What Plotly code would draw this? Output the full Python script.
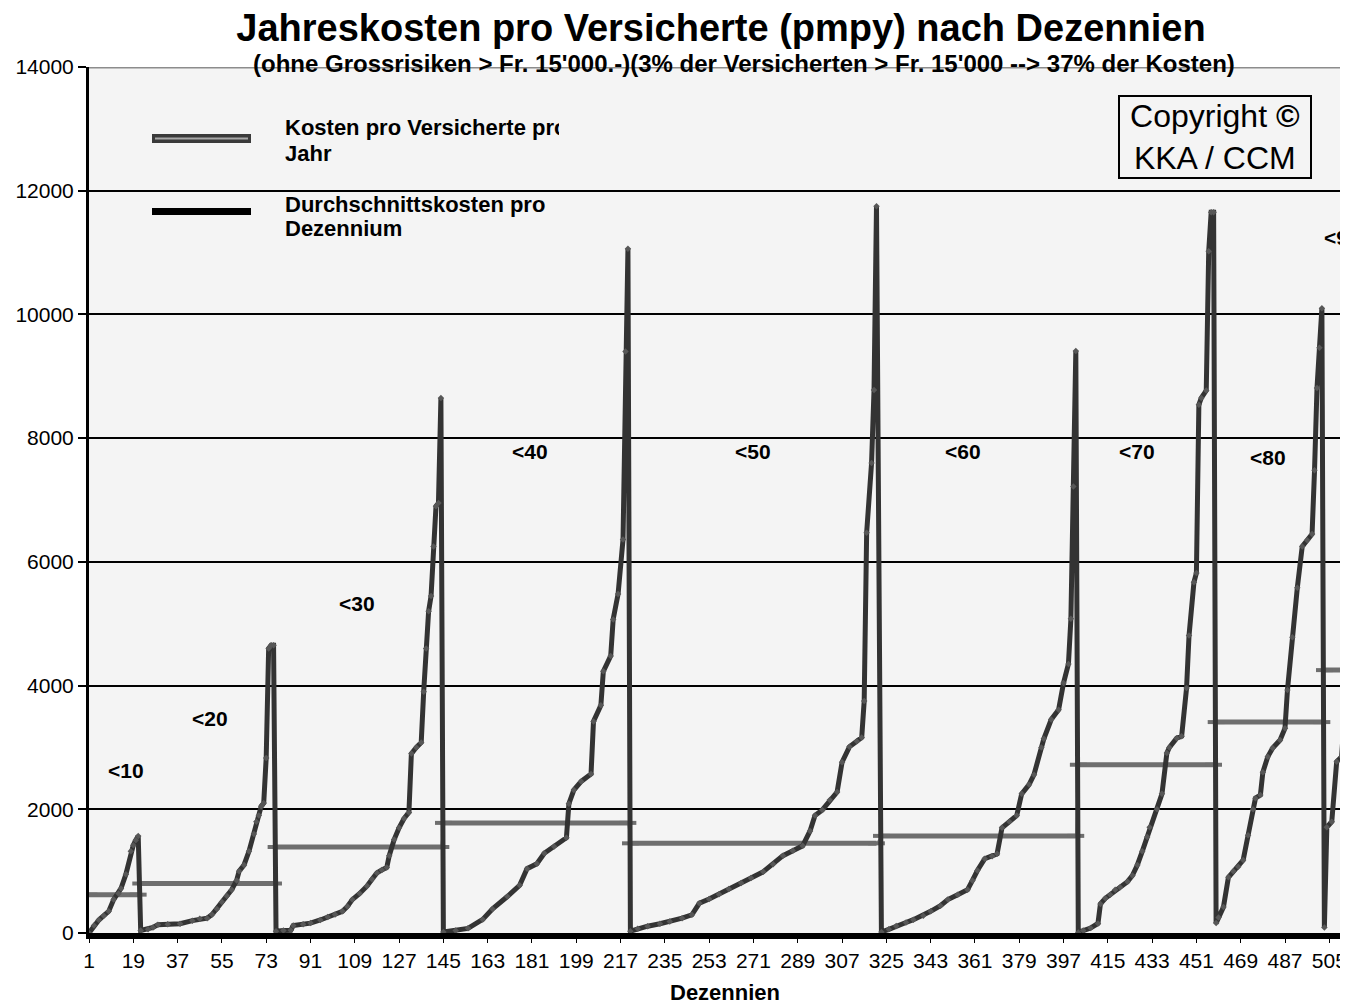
import plotly.graph_objects as go

# Kosten pro Versicherte pro Jahr (Fr.), innerhalb jedes Dezenniums aufsteigend sortiert
x_10 = [1, 3, 5, 7, 9, 11, 13, 14, 16, 18, 19, 20, 21]
y_10 = [0, 120, 210, 280, 350, 540, 640, 720, 950, 1320, 1420, 1500, 1570]

x_20 = [22, 25, 27, 29, 33, 38, 43, 46, 49, 51, 53, 55, 57, 59, 61, 62, 64, 66, 68, 69, 70, 71, 72, 73, 74, 75, 76]
y_20 = [40, 60, 90, 135, 140, 150, 200, 230, 240, 300, 390, 500, 600, 700, 850, 1000, 1100, 1320, 1600, 1800,
        1900, 2050, 2100, 2830, 4600, 4650, 4650]

x_30 = [77, 80, 83, 84, 88, 91, 95, 98, 101, 104, 106, 108, 111, 114, 116, 118, 120, 122, 123, 125, 127, 129,
        131, 132, 134, 136, 137, 138, 139, 140, 141, 142, 143, 144]
y_30 = [30, 40, 45, 120, 140, 160, 210, 260, 300, 350, 430, 540, 640, 760, 870, 970, 1020, 1060, 1250, 1510,
        1700, 1850, 1950, 2900, 3000, 3080, 3900, 4600, 5200, 5450, 6250, 6900, 6950, 8650]

x_40 = [145, 150, 155, 161, 165, 171, 176, 179, 183, 186, 190, 195, 196, 198, 201, 205, 206, 209, 210, 213,
        214, 216, 218, 219, 220]
y_40 = [15, 40, 75, 220, 390, 590, 770, 1040, 1120, 1290, 1400, 1540, 2090, 2310, 2450, 2570, 3420, 3680,
        4230, 4480, 5070, 5480, 6360, 9400, 11060]

x_50 = [221, 224, 228, 233, 237, 242, 246, 249, 253, 257, 261, 266, 270, 275, 279, 283, 287, 291, 294, 296,
        299, 302, 305, 307, 310, 313, 315, 316, 317, 319, 320, 321]
y_50 = [30, 70, 110, 150, 185, 240, 295, 480, 550, 625, 710, 810, 890, 990, 1110, 1250, 1330, 1410, 1650,
        1900, 1990, 2150, 2280, 2760, 3010, 3100, 3160, 3750, 6470, 7600, 8780, 11750]

x_60 = [323, 326, 329, 333, 336, 340, 343, 347, 350, 354, 358, 360, 362, 365, 368, 370, 372, 375, 378, 380,
        383, 385, 388, 389, 392, 395, 397, 399, 400, 401, 402]
y_60 = [15, 60, 115, 170, 215, 280, 350, 440, 540, 620, 700, 850, 1010, 1200, 1240, 1280, 1700, 1800, 1900,
        2250, 2400, 2560, 3000, 3140, 3450, 3610, 4040, 4350, 5080, 7220, 9410]

x_70 = [403, 405, 408, 411, 412, 414, 416, 418, 420, 423, 425, 427, 429, 431, 432, 435, 437, 439, 440, 443,
        445, 447, 448, 450, 451, 452, 453, 455, 456, 457, 458]
y_70 = [10, 40, 80, 155, 470, 560, 620, 700, 740, 830, 930, 1100, 1320, 1550, 1710, 2000, 2250, 2910, 3000,
        3150, 3180, 3960, 4810, 5670, 5820, 8540, 8650, 8770, 11020, 11650, 11650]

x_80 = [459, 460, 462, 464, 466, 468, 470, 472, 474, 475, 477, 478, 480, 482, 485, 487, 488, 490, 492, 494,
        496, 498, 499, 500, 501, 502]
y_80 = [160, 250, 420, 900, 1000, 1070, 1180, 1580, 2000, 2180, 2230, 2600, 2850, 2990, 3120, 3310, 3930,
        4780, 5580, 6250, 6350, 6450, 7480, 8810, 9460, 10100]

x_90 = [503, 504, 506, 508, 510, 511, 512, 513]
y_90 = [90, 1710, 1800, 2770, 2850, 3440, 4040, 6400]

# Durchschnittskosten pro Dezennium
dezennien = ["<10", "<20", "<30", "<40", "<50", "<60", "<70", "<80", "<90"]
dez_start = [1, 22, 77, 145, 221, 323, 403, 459, 503]
dez_ende = [21, 76, 144, 220, 321, 402, 458, 502, 530]
dez_mittel = [620, 800, 1390, 1780, 1450, 1570, 2720, 3410, 4250]

# Lage der Dezennium-Beschriftungen (Index, Fr.)
label_x = [16, 50, 110, 180, 271, 356, 427, 480, 502]
label_y = [2620, 3460, 5320, 7780, 7780, 7780, 7780, 7680, 11250]

tick_werte = list(range(1, 506, 18))
tick_text = [str(v) for v in tick_werte]

kosten_x = x_10 + x_20 + x_30 + x_40 + x_50 + x_60 + x_70 + x_80 + x_90
kosten_y = y_10 + y_20 + y_30 + y_40 + y_50 + y_60 + y_70 + y_80 + y_90

seg_x, seg_y, step_x, step_y = [], [], [], []
for s, e, m in zip(dez_start, dez_ende, dez_mittel):
    seg_x += [s, e, None]
    seg_y += [m, m, None]
    step_x += [s, e]
    step_y += [m, m]

# Seite hat 8 px Rand; Plotfläche im Bild: 89..1348 x 67..933
OFF = 8
L, T, R, B = 89, 67, 1348, 933
W, H = 1348 - OFF, 1005 - OFF


def px_x(p):
    return (p - L) / (R - L)


def px_y(p):
    return (B - p) / (B - T)


FONT = 'Arial, Liberation Sans, sans-serif'

fig = go.Figure()

fig.add_trace(go.Scatter(
    x=step_x, y=step_y, mode='lines', line=dict(color='#8a8a8a', width=1.5),
    hoverinfo='skip', showlegend=False
))
fig.add_trace(go.Scatter(
    x=seg_x, y=seg_y, mode='lines+markers', name='Durchschnittskosten pro Dezennium',
    line=dict(color='#6e6e6e', width=5),
    marker=dict(symbol='line-ew', size=12, line=dict(color='#6e6e6e', width=4)),
    showlegend=False
))
fig.add_trace(go.Scatter(
    x=kosten_x, y=kosten_y, mode='lines+markers', name='Kosten pro Versicherte pro Jahr',
    line=dict(color='#333333', width=5),
    marker=dict(symbol='diamond', size=5, color='#575757'),
    showlegend=False
))

annotations = []
for txt, lx, ly in zip(dezennien, label_x, label_y):
    annotations.append(dict(
        x=lx, y=ly, xref='x', yref='y', text='<b>' + txt + '</b>', showarrow=False,
        xanchor='left' if txt == '<90' else 'center', yanchor='middle',
        font=dict(family=FONT, size=21, color='black')
    ))

legende = [("Kosten pro Versicherte pro", 128), ("Jahr", 153),
           ("Durchschnittskosten pro", 204), ("Dezennium", 228)]
for txt, py in legende:
    annotations.append(dict(
        x=px_x(283), y=px_y(py), xref='paper', yref='paper', showarrow=False,
        text='<b>' + txt + '</b>', align='left', xanchor='left', yanchor='middle',
        width=274, font=dict(family=FONT, size=22, color='black')
    ))

annotations += [
    dict(x=px_x(744), y=px_y(64), xref='paper', yref='paper', showarrow=False,
         text="<b>(ohne Grossrisiken > Fr. 15'000.-)(3% der Versicherten > Fr. 15'000 --> 37% der Kosten)</b>",
         font=dict(family=FONT, size=24, color='black'), xanchor='center', yanchor='middle'),
    dict(x=px_x(1215), y=px_y(137), xref='paper', yref='paper', showarrow=False,
         text='Copyright <b>©</b><br>KKA / CCM', width=188, height=78,
         xanchor='center', yanchor='middle',
         bordercolor='black', borderwidth=2, bgcolor='#f4f4f4',
         font=dict(family=FONT, size=32, color='black')),
    dict(x=px_x(725), y=px_y(992), xref='paper', yref='paper', showarrow=False,
         text='<b>Dezennien</b>', xanchor='center', yanchor='middle',
         font=dict(family=FONT, size=22, color='black')),
]

shapes = [
    dict(type='line', xref='paper', yref='y', x0=0, x1=1, y0=14000, y1=14000,
         line=dict(color='#8c8c8c', width=3), layer='above'),
    # Legendensymbole
    dict(type='rect', xref='paper', yref='paper', x0=px_x(152), x1=px_x(251), y0=px_y(143), y1=px_y(134),
         fillcolor='#3a3a3a', line=dict(width=0)),
    dict(type='line', xref='paper', yref='paper', x0=px_x(155), x1=px_x(248), y0=px_y(138.5), y1=px_y(138.5),
         line=dict(color='#a8a8a8', width=2)),
    dict(type='rect', xref='paper', yref='paper', x0=px_x(152), x1=px_x(251), y0=px_y(215), y1=px_y(208),
         fillcolor='black', line=dict(width=0)),
]

fig.update_layout(
    title=dict(text='<b>Jahreskosten pro Versicherte (pmpy) nach Dezennien</b>',
               x=(721 - OFF) / W, y=1 - (28 - OFF) / H, xanchor='center', yanchor='middle',
               font=dict(family=FONT, size=38, color='black')),
    width=W, height=H,
    margin=dict(l=L - OFF, r=0, t=T - OFF, b=H - (B - OFF), autoexpand=False),
    paper_bgcolor='white', plot_bgcolor='#f4f4f4',
    font=dict(family=FONT, size=21, color='black'),
    showlegend=False,
    annotations=annotations,
    shapes=shapes,
)
fig.update_xaxes(
    range=[1, 512.6], tickvals=tick_werte, ticktext=tick_text, automargin=False,
    showgrid=False, zeroline=False,
    showline=True, linecolor='black', linewidth=6,
    ticks='outside', ticklen=4, tickcolor='black', tickwidth=1,
    tickfont=dict(family=FONT, size=21, color='black')
)
fig.update_yaxes(
    range=[0, 14000], dtick=2000, tickformat='d', automargin=False,
    showgrid=True, gridcolor='black', gridwidth=2, zeroline=False,
    showline=True, linecolor='black', linewidth=3,
    ticks='outside', ticklen=8, tickcolor='black', tickwidth=2,
    tickfont=dict(family=FONT, size=21, color='black')
)

fig.write_html("out.html")
